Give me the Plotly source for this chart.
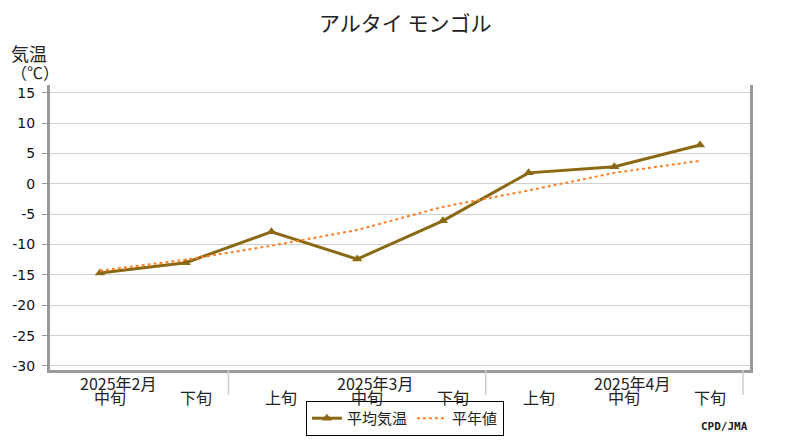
import plotly.graph_objects as go

dekads = ["中旬", "下旬", "上旬", "中旬", "下旬", "上旬", "中旬", "下旬"]
months = ["2025年2月", "2025年3月", "2025年4月"]
month_of = [0, 0, 1, 1, 1, 2, 2, 2]
avg_temp = [-14.7, -13.0, -7.9, -12.4, -6.1, 1.8, 2.8, 6.4]
normal = [-14.3, -12.5, -10.2, -7.6, -3.8, -1.1, 1.8, 3.8]
yticks = [15, 10, 5, 0, -5, -10, -15, -20, -25, -30]
yticklabels = [str(v) for v in yticks]

x = list(range(len(dekads)))
FONT = "Noto Sans CJK JP"
OFF = 8  # page body margin compensation

fig = go.Figure()
fig.add_trace(go.Scatter(
    x=x, y=avg_temp, name="平均気温", mode="lines+markers",
    line=dict(color="#8B6914", width=3),
    marker=dict(symbol="triangle-up", size=9, color="#8B6914"),
))
fig.add_trace(go.Scatter(
    x=x, y=normal, name="平年値", mode="lines",
    line=dict(color="#FF7F27", width=2, dash="dot"),
))

annotations = []
for i, d in enumerate(dekads):
    annotations.append(dict(x=i, y=0, xref="x", yref="paper", yshift=-27,
                            xshift=10, text=d, showarrow=False,
                            font=dict(family=FONT, size=16, color="#222"),
                            yanchor="middle"))
for m, name in enumerate(months):
    idx = [i for i, mo in enumerate(month_of) if mo == m and dekads[i] == "中旬"][0]
    annotations.append(dict(x=idx, y=0, xref="x", yref="paper", yshift=-13,
                            xshift=18, text=name, showarrow=False,
                            font=dict(family=FONT, size=16, color="#222"),
                            yanchor="middle"))
annotations.append(dict(x=0.5, y=1, xref="paper", yref="paper", yshift=63,
                        xshift=5,
                        text="アルタイ モンゴル", showarrow=False,
                        font=dict(family=FONT, size=21, color="#222"),
                        yanchor="middle"))
annotations.append(dict(x=0, y=1, xref="paper", yref="paper", xshift=-(50 - OFF) + 1, yshift=32,
                        text="気温", showarrow=False, xanchor="left",
                        font=dict(family=FONT, size=18, color="#222"),
                        yanchor="middle"))
annotations.append(dict(x=0, y=1, xref="paper", yref="paper", xshift=-(50 - OFF) + 1, yshift=13,
                        text="（℃）", showarrow=False, xanchor="left",
                        font=dict(family=FONT, size=16, color="#222"),
                        yanchor="middle"))
annotations.append(dict(x=1, y=0, xref="paper", yref="paper", yshift=-56, xshift=0,
                        text="<b>CPD/JMA</b>", showarrow=False, xanchor="right",
                        font=dict(family="DejaVu Sans Mono", size=11, color="#222"),
                        yanchor="middle"))

shapes = []
for i in range(1, len(month_of) + 1):
    if i == len(month_of) or month_of[i] != month_of[i - 1]:
        shapes.append(dict(type="line", xref="x", yref="paper", x0=i - 0.5, x1=i - 0.5,
                           y0=0, y1=-0.088, line=dict(color="#cccccc", width=1.5)))

fig.update_layout(
    width=800, height=440,
    margin=dict(l=50 - OFF, r=50 + OFF, t=85 - OFF, b=70 + OFF, autoexpand=False),
    plot_bgcolor="white", paper_bgcolor="white",
    showlegend=True,
    legend=dict(orientation="h", x=0.507, xanchor="center", y=-0.17, yanchor="middle",
                bordercolor="black", borderwidth=1,
                font=dict(family=FONT, size=15, color="#222"),
                itemwidth=30, tracegroupgap=0),
    xaxis=dict(range=[-0.583, 7.583], showticklabels=False, showgrid=False,
               zeroline=False, showline=True, linecolor="#999999", linewidth=3,
               ticks="", automargin=False),
    yaxis=dict(range=[-30.66, 16.27], tickvals=yticks, ticktext=yticklabels,
               showgrid=True,
               gridcolor="#d0d0d0", gridwidth=1, zeroline=False,
               showline=True, linecolor="#999999", linewidth=3, mirror=True,
               ticks="outside", ticklen=5, tickcolor="#999999", automargin=False,
               ticklabelstandoff=4,
               tickfont=dict(family="DejaVu Sans", size=14, color="#111")),
    annotations=annotations,
    shapes=shapes,
)

fig.write_html("out.html")
